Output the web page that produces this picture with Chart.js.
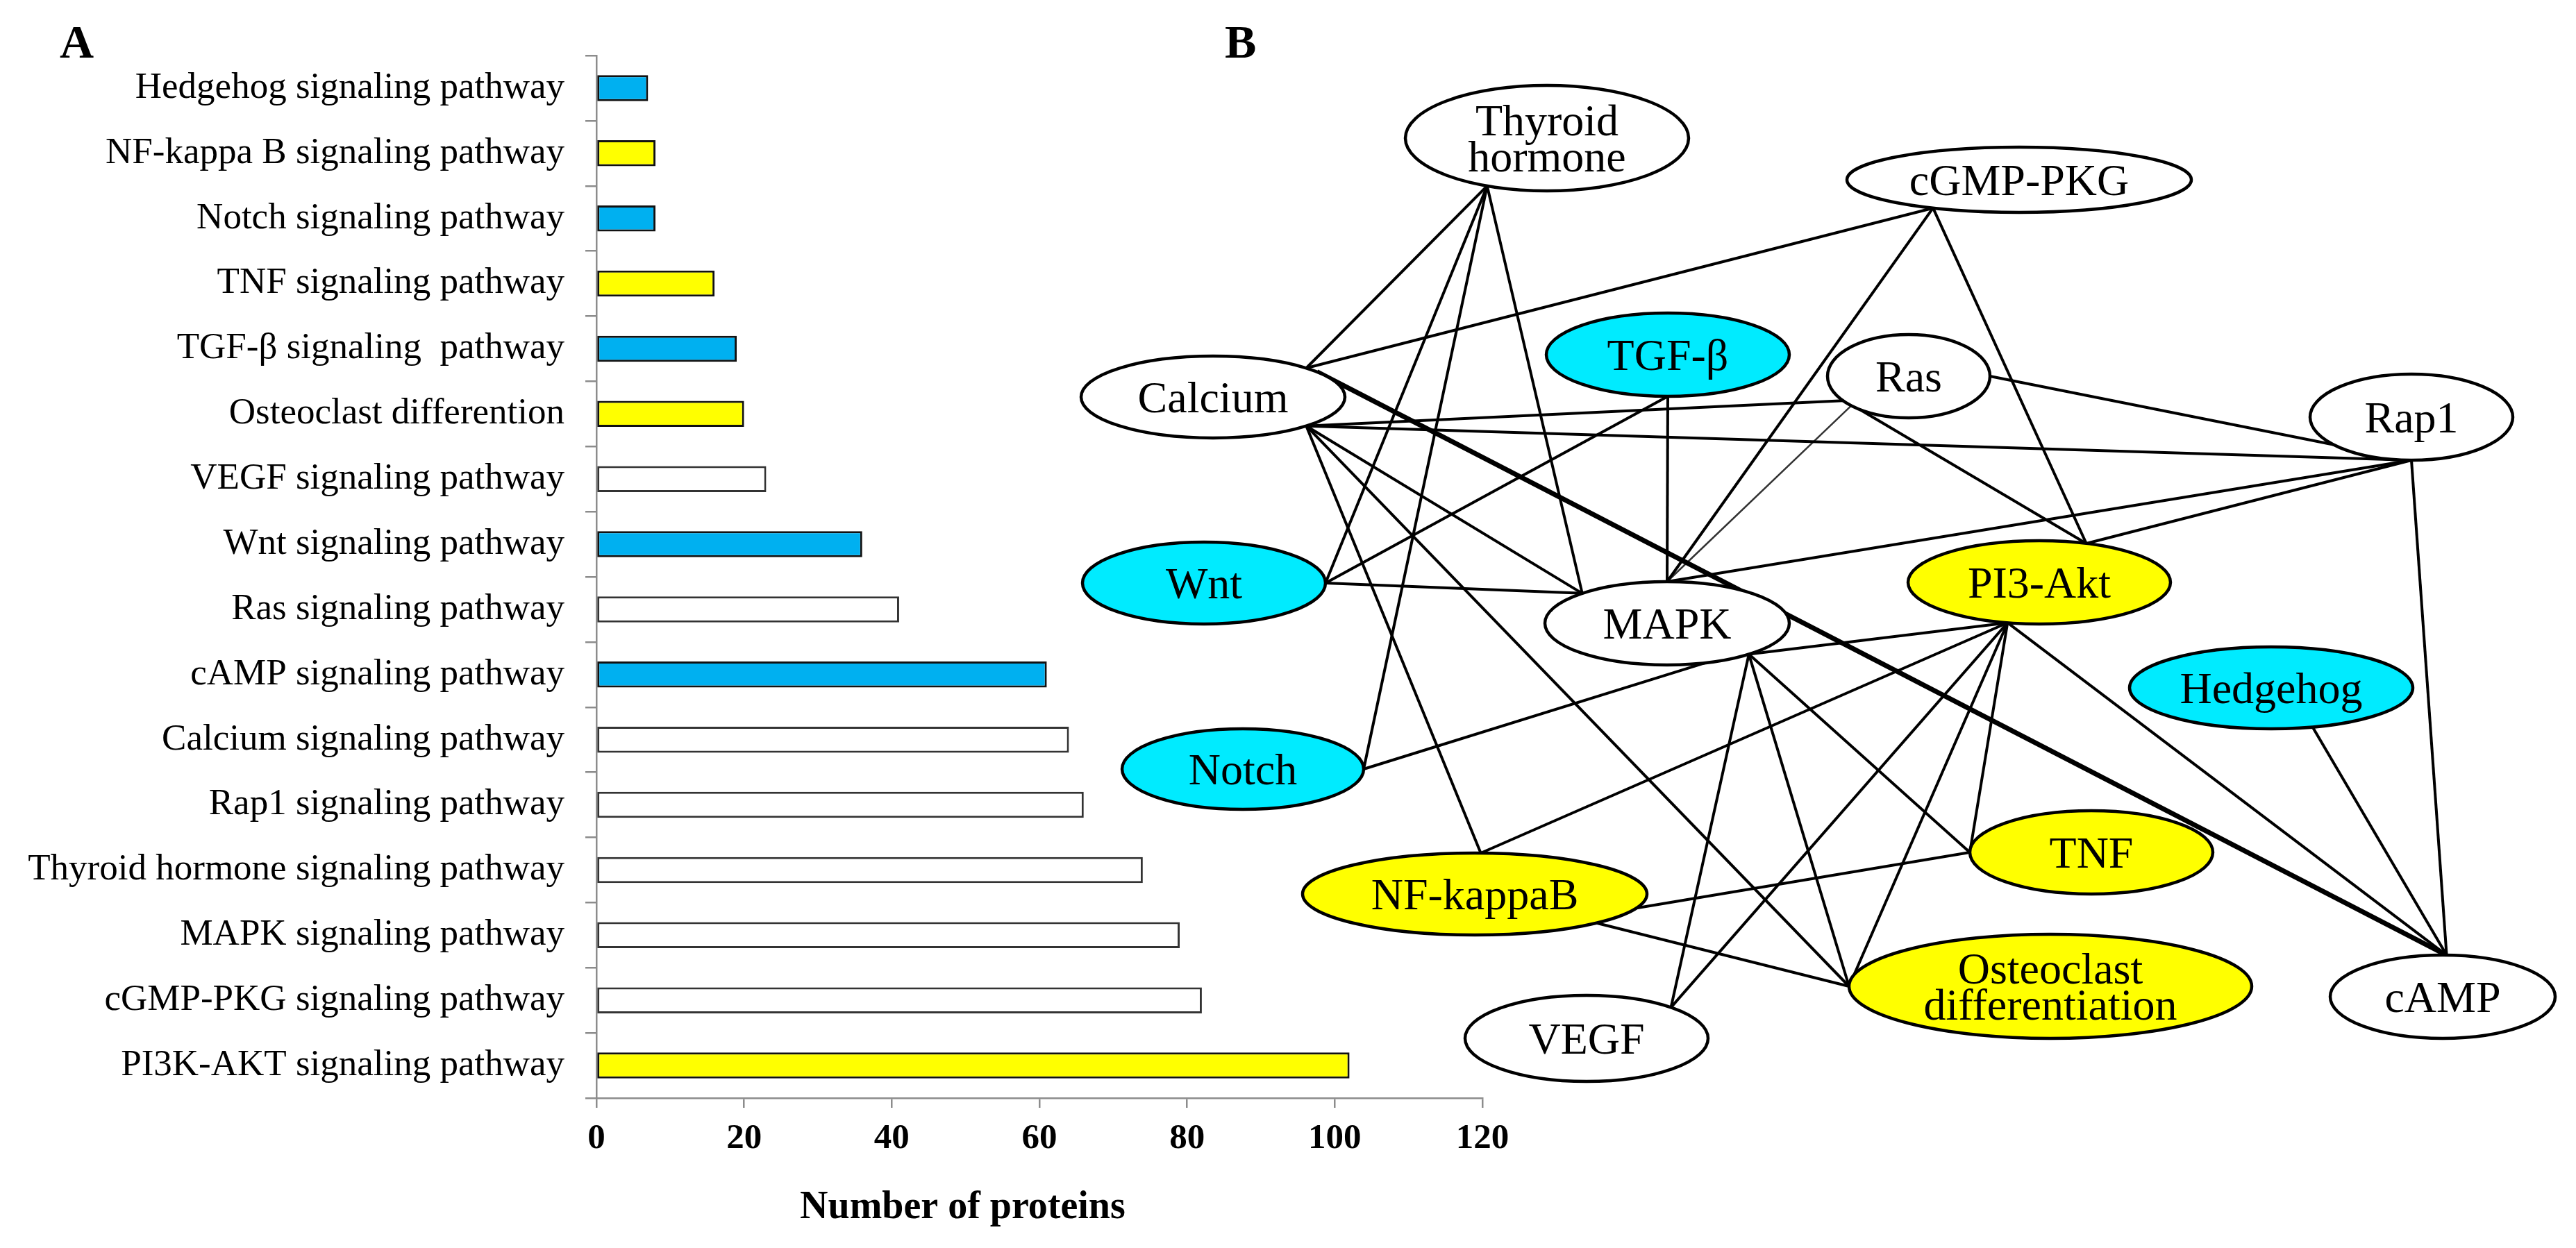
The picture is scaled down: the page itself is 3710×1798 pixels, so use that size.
<!DOCTYPE html>
<html lang="en">
<head>
<meta charset="UTF-8">
<title>Signaling pathways: protein counts and pathway network</title>
<script src="https://cdn.jsdelivr.net/npm/chart.js"></script>
<style>
  html, body { margin:0; padding:0; background:#fff; }
  #page   { position:relative; width:3710px; height:1798px; overflow:hidden; background:#fff; }
  #barBox { position:absolute; left:0; top:0; width:2200px; height:1798px; }
  #netBox { position:absolute; left:1500px; top:0; width:2210px; height:1798px; }
</style>
</head>
<body>
<div id="page">
  <div id="barBox"><canvas id="barChart"></canvas></div>
  <div id="netBox"><canvas id="netChart"></canvas></div>
</div>

<script>
  /* ---------- data: panel A ---------- */
  const pathways = [
    'Hedgehog signaling pathway', 'NF-kappa B signaling pathway', 'Notch signaling pathway',
    'TNF signaling pathway', 'TGF-\u03b2 signaling  pathway', 'Osteoclast differention',
    'VEGF signaling pathway', 'Wnt signaling pathway', 'Ras signaling pathway',
    'cAMP signaling pathway', 'Calcium signaling pathway', 'Rap1 signaling pathway',
    'Thyroid hormone signaling pathway', 'MAPK signaling pathway',
    'cGMP-PKG signaling pathway', 'PI3K-AKT signaling pathway'
  ];
  const proteinCounts = [7, 8, 8, 16, 19, 20, 23, 36, 41, 61, 64, 66, 74, 79, 82, 102];
  const pathwayGroup  = ['blue','yellow','blue','yellow','blue','yellow','none','blue',
                         'none','blue','none','none','none','none','none','yellow'];
  const xTicks = [0, 20, 40, 60, 80, 100, 120];

  /* ---------- data: panel B ---------- */
  const nodeNames = ['Thyroid\nhormone','cGMP-PKG','Calcium','TGF-\u03b2','Ras','Rap1','Wnt','MAPK',
                     'PI3-Akt','Hedgehog','Notch','NF-kappaB','TNF','Osteoclast\ndifferentiation','VEGF','cAMP'];
  const nodeGroup = ['none','none','none','blue','none','none','blue','none',
                     'yellow','blue','blue','yellow','yellow','yellow','none','none'];
  const edges = [
    ['Thyroid\nhormone','Calcium'], ['Thyroid\nhormone','Wnt'], ['Thyroid\nhormone','Notch'], ['Thyroid\nhormone','MAPK'],
    ['cGMP-PKG','Calcium'], ['cGMP-PKG','MAPK'], ['cGMP-PKG','PI3-Akt'],
    ['Calcium','cAMP'], ['Calcium','Ras'], ['Calcium','Rap1'], ['Calcium','MAPK'],
    ['Calcium','NF-kappaB'], ['Calcium','Osteoclast\ndifferentiation'],
    ['TGF-\u03b2','Wnt'], ['TGF-\u03b2','MAPK'], ['Wnt','MAPK'],
    ['Ras','Rap1'], ['Ras','PI3-Akt'], ['Ras','MAPK'],
    ['Rap1','MAPK'], ['Rap1','PI3-Akt'], ['Rap1','cAMP'],
    ['Notch','MAPK'],
    ['MAPK','PI3-Akt'], ['MAPK','TNF'], ['MAPK','Osteoclast\ndifferentiation'], ['MAPK','VEGF'],
    ['PI3-Akt','NF-kappaB'], ['PI3-Akt','TNF'], ['PI3-Akt','Osteoclast\ndifferentiation'],
    ['PI3-Akt','VEGF'], ['PI3-Akt','cAMP'],
    ['NF-kappaB','TNF'], ['NF-kappaB','Osteoclast\ndifferentiation'],
    ['Hedgehog','cAMP']
  ];

  /* ---------- layout of the network (x, y, half-width, half-height in plot units) ---------- */
  const nodeLayout = {
    'Thyroid\nhormone': [72.8, 19.9, 20.4, 7.6],
    'cGMP-PKG':         [140.8, 25.9, 24.8, 4.7],
    'Calcium':          [24.7, 57.2, 19.0, 5.9],
    'TGF-\u03b2':       [90.2, 51.1, 17.5, 6.0],
    'Ras':              [124.9, 54.2, 11.7, 6.0],
    'Rap1':             [197.3, 60.1, 14.6, 6.2],
    'Wnt':              [23.4, 84.0, 17.5, 5.9],
    'MAPK':             [90.1, 89.8, 17.6, 6.0],
    'PI3-Akt':          [143.7, 83.9, 18.9, 6.0],
    'Hedgehog':         [177.1, 99.1, 20.4, 5.9],
    'Notch':            [29.0, 110.8, 17.4, 5.8],
    'NF-kappaB':        [62.4, 128.8, 24.8, 5.9],
    'TNF':              [151.2, 122.8, 17.5, 6.0],
    'Osteoclast\ndifferentiation': [145.3, 142.1, 29.0, 7.5],
    'VEGF':             [78.5, 149.6, 17.5, 6.2],
    'cAMP':             [201.8, 143.6, 16.2, 6.0]
  };
  // where each edge leaves the ellipse (angle in degrees, 0 = right, 90 = down)
  const edgePorts = [
    [115,-45], [115,0], [115,0], [115,-134],
    [120,-45], [120,-90], [120,-69],
    [-38,-88], [45,144], [45,90], [45,-134], [45,-88], [45,180],
    [90,0], [90,-90], [0,-134],
    [0,90], [127,-69], [135,-90],
    [90,-90], [90,-69], [90,-88],
    [0,72],
    [48,104], [48,180], [48,180], [48,-46],
    [104,-88], [104,180], [104,180], [104,-46], [104,-88],
    [20,180], [45,180],
    [73,-88]
  ];
  const edgeWidth = { 'Calcium|cAMP': 7, 'Ras|MAPK': 2.5 };

  /* ---------- styles ---------- */
  const SERIF = '"Liberation Serif", "Times New Roman", serif';
  const barFill  = { blue:'#00B0F0', yellow:'#FFFF00', none:'#FFFFFF' };
  const barEdge  = { blue:'#111', yellow:'#111', none:'#333' };
  const nodeFill = { blue:'#00EBFF', yellow:'#FFFF00', none:'#FFFFFF' };
  const AXIS = '#8c8c8c';

  Chart.defaults.font.family = SERIF;
  Chart.defaults.color = '#000';

  /* ---------- panel A ---------- */
  const panelAText = {
    id: 'panelAText',
    afterDraw(chart) {
      const { ctx, scales: { x } } = chart;
      ctx.save();
      ctx.fillStyle = '#000';
      ctx.textBaseline = 'alphabetic';
      ctx.textAlign = 'left';
      ctx.font = 'bold 68px ' + SERIF;
      ctx.fillText('A', 86, 83);
      ctx.textAlign = 'center';
      ctx.textBaseline = 'middle';
      ctx.font = 'bold 56px ' + SERIF;
      ctx.fillText('Number of proteins', x.getPixelForValue(49.6), 1741);
      ctx.restore();
    }
  };

  new Chart(document.getElementById('barChart'), {
    type: 'bar',
    data: {
      labels: pathways,
      datasets: [{
        data: proteinCounts,
        backgroundColor: pathwayGroup.map(g => barFill[g]),
        borderColor: pathwayGroup.map(g => barEdge[g]),
        borderWidth: 3,
        borderSkipped: false,
        barPercentage: 0.4,
        categoryPercentage: 1
      }]
    },
    options: {
      indexAxis: 'y',
      responsive: true, maintainAspectRatio: false, animation: false,
      layout: { padding: { top: 80, right: 65, left: 0, bottom: 0 } },
      plugins: { legend: { display: false }, tooltip: { enabled: false } },
      scales: {
        x: {
          min: 0, max: 120,
          afterBuildTicks: s => { s.ticks = xTicks.map(v => ({ value: v })); },
          ticks: { font: { size: 51, weight: 'bold' }, padding: 14, color: '#000' },
          grid: { drawOnChartArea: false, drawTicks: true, tickLength: 14, color: AXIS, lineWidth: 2.5 },
          border: { color: AXIS, width: 2.5 },
          afterFit: s => { s.height = 216; }
        },
        y: {
          ticks: { font: { size: 53 }, padding: 30, color: '#000', autoSkip: false },
          grid: { drawOnChartArea: false, drawTicks: true, tickLength: 16, color: AXIS, lineWidth: 2.5, offset: true },
          border: { color: AXIS, width: 2.5 },
          afterFit: s => { s.width = 859; }
        }
      }
    },
    plugins: [panelAText]
  });

  /* ---------- panel B ---------- */
  const anchor = (name, deg) => {
    const [cx, cy, rx, ry] = nodeLayout[name];
    const t = deg * Math.PI / 180;
    return { x: cx + rx * Math.cos(t), y: cy + ry * Math.sin(t) };
  };

  const nodeDrawer = {
    id: 'nodeDrawer',
    afterDatasetsDraw(chart) {
      const { ctx, scales: { x, y } } = chart;
      ctx.save();
      nodeNames.forEach((name, i) => {
        const [cx, cy, rx, ry] = nodeLayout[name];
        const px = x.getPixelForValue(cx), py = y.getPixelForValue(cy);
        const prx = Math.abs(x.getPixelForValue(cx + rx) - px);
        const pry = Math.abs(y.getPixelForValue(cy + ry) - py);
        ctx.beginPath();
        ctx.ellipse(px, py, prx, pry, 0, 0, 2 * Math.PI);
        ctx.fillStyle = nodeFill[nodeGroup[i]];
        ctx.fill();
        ctx.lineWidth = 4.5;
        ctx.strokeStyle = '#000';
        ctx.stroke();

        const lines = name.split('\n');
        ctx.fillStyle = '#000';
        ctx.font = '64px ' + SERIF;
        ctx.textAlign = 'center';
        ctx.textBaseline = 'alphabetic';
        lines.forEach((ln, k) => {
          ctx.fillText(ln, px, py + 22 + (k - (lines.length - 1) / 2) * 52);
        });
      });
      ctx.restore();
    },
    afterDraw(chart) {
      const { ctx } = chart;
      ctx.save();
      ctx.fillStyle = '#000';
      ctx.font = 'bold 68px ' + SERIF;
      ctx.textAlign = 'left';
      ctx.textBaseline = 'alphabetic';
      ctx.fillText('B', 264, 83);
      ctx.restore();
    }
  };

  new Chart(document.getElementById('netChart'), {
    type: 'scatter',
    data: {
      datasets: edges.map((e, i) => {
        const w = edgeWidth[e[0] + '|' + e[1]] || 4;
        return {
          data: [anchor(e[0], edgePorts[i][0]), anchor(e[1], edgePorts[i][1])],
          showLine: true,
          borderColor: w < 3 ? '#333' : '#000',
          borderWidth: w,
          pointRadius: 0,
          pointHoverRadius: 0,
          clip: false
        };
      })
    },
    options: {
      responsive: true, maintainAspectRatio: false, animation: false,
      layout: { padding: 0 },
      plugins: { legend: { display: false }, tooltip: { enabled: false } },
      scales: {
        x: { type: 'linear', min: 0, max: 221, display: false },
        y: { type: 'linear', min: 0, max: 179.8, reverse: true, display: false }
      }
    },
    plugins: [nodeDrawer]
  });
</script>
</body>
</html>
